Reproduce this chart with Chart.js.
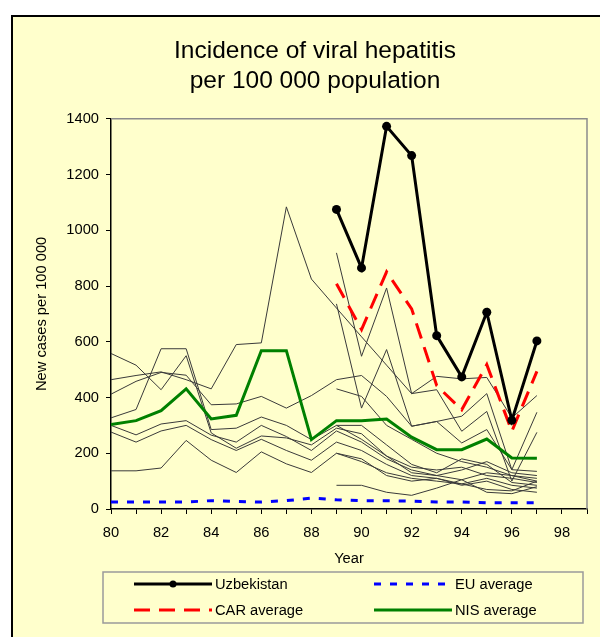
<!DOCTYPE html>
<html>
<head>
<meta charset="utf-8">
<script src="https://cdn.jsdelivr.net/npm/chart.js@4/dist/chart.umd.min.js"></script>
<style>
  body { margin: 0; background: #fff; }
  canvas { display: block; }
</style>
</head>
<body>
<canvas id="myChart" width="600" height="637"></canvas>
<script>
// data (years 1980-1997)
var years = [80, 81, 82, 83, 84, 85, 86, 87, 88, 89, 90, 91, 92, 93, 94, 95, 96, 97];
var uzbekistan = [null, null, null, null, null, null, null, null, null, 1075, 865, 1373, 1268, 622, 474, 706, 318, 603];
var carAverage = [null, null, null, null, null, null, null, null, null, 808, 644, 851, 718, 443, 356, 518, 279, 494];
var euAverage = [25, 25, 25, 25, 30, 27, 25, 30, 39, 33, 30, 30, 28, 25, 25, 22, 22, 22];
var nisAverage = [303, 317, 353, 431, 323, 336, 568, 568, 249, 317, 317, 323, 258, 213, 213, 251, 183, 182];

// single countries (thin lines)
var countries = [
  [464, 479, 492, 464, 431, 590, 596, 1084, 825, 721, 618, 516, 414, 476, 467, 472, 327, 407],
  [558, 516, 428, 550, 273, 218, 262, 255, 230, 290, 270, 190, 150, 140, 150, 120, 110, 95],
  [327, 357, 575, 575, 285, 290, 330, 300, 249, 300, 300, 230, 160, 130, 180, 160, 95, 85],
  [412, 458, 490, 480, 374, 377, 404, 362, 407, 464, 479, 404, 297, 314, 237, 285, 141, 135],
  [300, 266, 305, 317, 265, 240, 300, 260, 210, 280, 240, 180, 140, 120, 105, 130, 120, 110],
  [276, 240, 280, 300, 249, 210, 250, 210, 175, 240, 210, 160, 120, 110, 90, 110, 85, 75],
  [137, 137, 147, 246, 175, 131, 205, 162, 131, 200, 180, 120, 100, 110, 85, 100, 70, 60],
  [null, null, null, null, null, null, null, null, null, 919, 548, 793, 414, 428, 279, 350, 100, 275],
  [null, null, null, null, null, null, null, null, null, 736, 362, 572, 297, 314, 333, 414, 141, 347],
  [null, null, null, null, null, null, null, null, null, 85, 85, 60, 49, 75, 105, 60, 55, 80],
  [null, null, null, null, null, null, null, null, null, 431, 404, 300, 250, 200, 170, 150, 120, 100],
  [null, null, null, null, null, null, null, null, null, 300, 250, 190, 130, 120, 140, 170, 130, 120],
  [null, null, null, null, null, null, null, null, null, 200, 170, 130, 110, 100, 90, 70, 65, 100]
];

var yTicks = [0, 200, 400, 600, 800, 1000, 1200, 1400];
var xTickLabels = ['80', '82', '84', '86', '88', '90', '92', '94', '96', '98'];

var FONT = '"Liberation Sans", Arial, sans-serif';

function toPoints(values) {
  var pts = [];
  for (var i = 0; i < years.length; i++) {
    if (values[i] !== null) pts.push({ x: years[i], y: values[i] });
  }
  return pts;
}

var datasets = [
  { label: 'Uzbekistan', data: toPoints(uzbekistan), borderColor: '#000', backgroundColor: '#000',
    borderWidth: 3, pointRadius: 4.5, pointBackgroundColor: '#000', pointBorderWidth: 0, legendPoint: 3.5 },
  { label: 'CAR average', data: toPoints(carAverage), borderColor: '#ff0000', borderWidth: 3,
    borderDash: [16, 9], pointRadius: 0 },
  { label: 'EU average', data: toPoints(euAverage), borderColor: '#0000ff', borderWidth: 3,
    borderDash: [7, 9], pointRadius: 0 },
  { label: 'NIS average', data: toPoints(nisAverage), borderColor: '#008000', borderWidth: 3, pointRadius: 0 }
];
for (var c = 0; c < countries.length; c++) {
  datasets.push({ label: '', data: toPoints(countries[c]), borderColor: '#3a3a3a', borderWidth: 1,
    pointRadius: 0 });
}

// yellow sheet with black frame on top / left
var sheetPlugin = {
  id: 'sheet',
  beforeDraw: function(chart) {
    var ctx = chart.ctx;
    ctx.save();
    ctx.fillStyle = '#ffffff';
    ctx.fillRect(0, 0, chart.width, chart.height);
    ctx.fillStyle = '#ffffcc';
    ctx.fillRect(12, 16, chart.width - 12, chart.height - 16);
    ctx.strokeStyle = '#000';
    ctx.lineWidth = 2;
    ctx.beginPath();
    ctx.moveTo(12, chart.height);
    ctx.lineTo(12, 16);
    ctx.lineTo(chart.width, 16);
    ctx.stroke();
    ctx.restore();
  },
  beforeDatasetsDraw: function(chart) {
    var a = chart.chartArea;
    var ctx = chart.ctx;
    ctx.save();
    ctx.strokeStyle = '#8c8c8c';
    ctx.lineWidth = 1.5;
    ctx.beginPath();
    ctx.moveTo(a.left, a.top);
    ctx.lineTo(a.right, a.top);
    ctx.lineTo(a.right, a.bottom);
    ctx.stroke();
    ctx.restore();
  }
};

// legend box under the plot, two columns
var legendPlugin = {
  id: 'boxLegend',
  afterDraw: function(chart) {
    var ctx = chart.ctx;
    ctx.save();
    ctx.strokeStyle = '#9a9a9a';
    ctx.lineWidth = 1.5;
    ctx.strokeRect(103, 572, 480, 51);
    var slots = [
      { ds: 0, x: 134, y: 584 },
      { ds: 2, x: 374, y: 584 },
      { ds: 1, x: 134, y: 610 },
      { ds: 3, x: 374, y: 610 }
    ];
    ctx.font = '14.7px ' + FONT;
    ctx.textBaseline = 'middle';
    ctx.textAlign = 'left';
    for (var i = 0; i < slots.length; i++) {
      var s = slots[i];
      var d = chart.data.datasets[s.ds];
      ctx.strokeStyle = d.borderColor;
      ctx.lineWidth = d.borderWidth;
      ctx.setLineDash(d.borderDash || []);
      ctx.beginPath();
      ctx.moveTo(s.x, s.y);
      ctx.lineTo(s.x + 78, s.y);
      ctx.stroke();
      ctx.setLineDash([]);
      if (d.legendPoint) {
        ctx.fillStyle = d.borderColor;
        ctx.beginPath();
        ctx.arc(s.x + 39, s.y, d.legendPoint, 0, Math.PI * 2);
        ctx.fill();
      }
      ctx.fillStyle = '#000';
      ctx.fillText(d.label, s.x + 81, s.y + 0.5);
    }
    ctx.restore();
  }
};

var ctx = document.getElementById('myChart').getContext('2d');
var myChart = new Chart(ctx, {
  type: 'line',
  data: { datasets: datasets },
  options: {
    responsive: false,
    animation: false,
    devicePixelRatio: 1,
    layout: { padding: { left: 43, right: 13, top: 0, bottom: 68 } },
    elements: { line: { tension: 0, fill: false } },
    plugins: {
      legend: { display: false },
      tooltip: { enabled: false },
      title: {
        display: true,
        text: ['Incidence of viral hepatitis', 'per 100 000 population'],
        color: '#000',
        font: { family: FONT, size: 24.5, weight: 'normal', lineHeight: 1.2 },
        padding: { top: 37, bottom: 23 }
      }
    },
    scales: {
      x: {
        type: 'linear',
        min: 80,
        max: 99,
        afterFit: function(scale) { scale.height = 60; },
        afterBuildTicks: function(scale) {
          var t = [];
          for (var v = 80; v <= 99; v++) t.push({ value: v });
          scale.ticks = t;
        },
        ticks: {
          autoSkip: false,
          maxRotation: 0,
          padding: 10,
          color: '#000',
          font: { family: FONT, size: 14.7 },
          callback: function(v) {
            return xTickLabels.indexOf(String(v)) >= 0 ? String(v) : '';
          }
        },
        grid: { drawOnChartArea: false, drawTicks: true, tickLength: 5, tickColor: '#000' },
        border: { display: true, color: '#000', width: 1.5 },
        title: { display: true, text: 'Year', color: '#000',
          font: { family: FONT, size: 14.7 }, padding: { top: 0, bottom: 1 } }
      },
      y: {
        min: 0,
        max: 1400,
        afterFit: function(scale) { scale.width = 68; },
        afterBuildTicks: function(scale) {
          scale.ticks = yTicks.map(function(v) { return { value: v }; });
        },
        ticks: {
          padding: 7,
          color: '#000',
          font: { family: FONT, size: 14.7 },
          callback: function(v) { return String(v); }
        },
        grid: { drawOnChartArea: false, drawTicks: true, tickLength: 5, tickColor: '#000' },
        border: { display: true, color: '#000', width: 1.5 },
        title: { display: true, text: 'New cases per 100 000', color: '#000',
          font: { family: FONT, size: 14.7 }, padding: { top: -10, bottom: 0 } }
      }
    }
  },
  plugins: [sheetPlugin, legendPlugin]
});
</script>
</body>
</html>
